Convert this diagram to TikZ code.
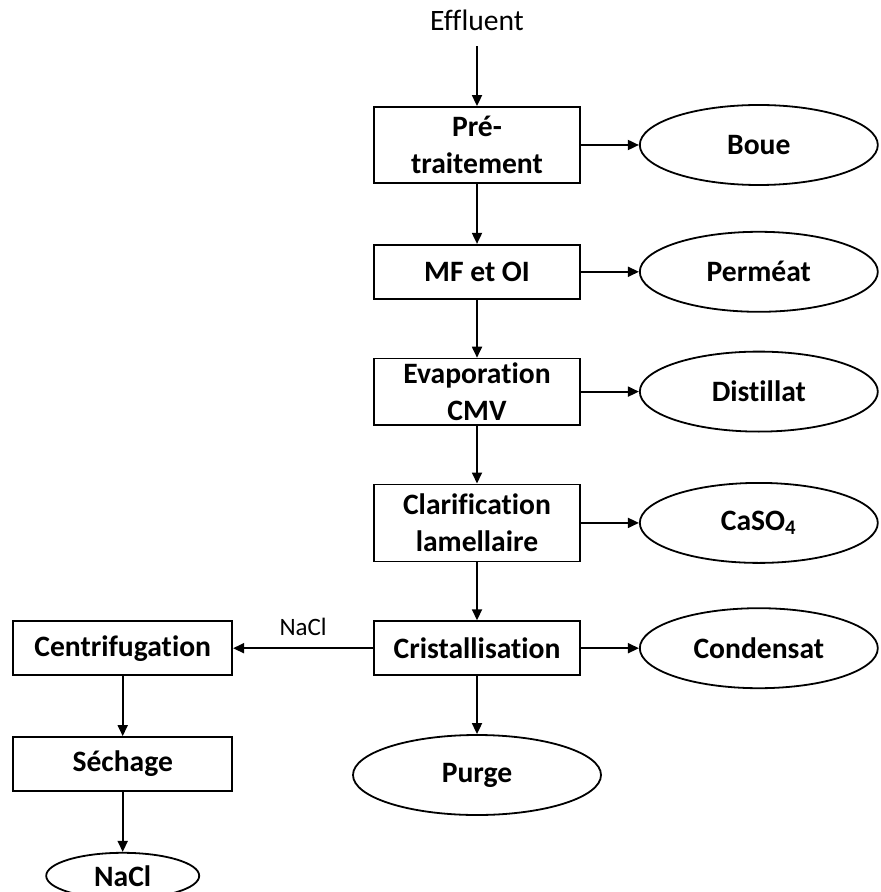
\documentclass[tikz,border=0pt]{standalone}
\usepackage{fontspec}
\setmainfont{Carlito}[Ligatures=NoCommon]
\usetikzlibrary{positioning, arrows.meta, shapes.geometric}

\begin{document}
\begin{tikzpicture}[
  node distance=29pt,
  font=\fontsize{14.8}{18.5}\selectfont,
  block/.style={
    draw,
    line width=0.9pt,
    minimum width=103pt,
    minimum height=27pt,
    inner ysep=0pt,
    align=center,
    font=\fontsize{14.8}{18.5}\selectfont\bfseries
  },
  product/.style={
    ellipse,
    draw,
    line width=0.9pt,
    minimum width=119pt,
    minimum height=40pt,
    inner sep=0pt,
    font=\fontsize{14.8}{18.5}\selectfont\bfseries
  },
  arrow/.style={
    -{Triangle[length=5.5pt, width=5pt]},
    line width=0.9pt
  }
]

\useasboundingbox (0,0) rectangle (440pt,-446pt);

% main line
\node[block, minimum height=38pt] (pre) at (238.5pt,-72.5pt) {Pré-\\traitement};
\node[above=30pt of pre, inner sep=7.5pt] (effluent) {Effluent};
\node[block, below=30pt of pre] (mfoi) {MF et OI};
\node[block, minimum height=33pt, below=of mfoi] (evap) {Evaporation\\CMV};
\node[block, minimum height=38.5pt, below=of evap] (clarif) {Clarification\\lamellaire};
\node[block, below=of clarif] (cristal) {Cristallisation};
\node[product, minimum width=124pt, below=of cristal] (purge) {Purge};

% outputs
\node[product, right=of pre] (boue) {Boue};
\node[product, right=of mfoi] (permeat) {Perméat};
\node[product, right=of evap] (distillat) {Distillat};
\node[product, right=of clarif] (caso) {CaSO\textsubscript{4}};
\node[product, right=of cristal] (condensat) {Condensat};

% NaCl branch
\node[block, minimum width=109.5pt, left=70pt of cristal] (centrif) {Centrifugation};
\node[block, minimum width=109.5pt, below=30pt of centrif] (sechage) {Séchage};
\node[product, minimum width=76.5pt, minimum height=23pt, below=30pt of sechage] (nacl) {NaCl};

\draw[arrow] (effluent) -- (pre);
\draw[arrow] (pre) -- (mfoi);
\draw[arrow] (mfoi) -- (evap);
\draw[arrow] (evap) -- (clarif);
\draw[arrow] (clarif) -- (cristal);
\draw[arrow] (cristal) -- (purge);

\draw[arrow] (pre) -- (boue);
\draw[arrow] (mfoi) -- (permeat);
\draw[arrow] (evap) -- (distillat);
\draw[arrow] (clarif) -- (caso);
\draw[arrow] (cristal) -- (condensat);

\draw[arrow] (cristal) --
  node[above, font=\fontsize{12.5}{15}\selectfont, inner sep=1pt, yshift=5pt] {NaCl}
  (centrif);
\draw[arrow] (centrif) -- (sechage);
\draw[arrow] (sechage) -- (nacl);

\end{tikzpicture}
\end{document}
